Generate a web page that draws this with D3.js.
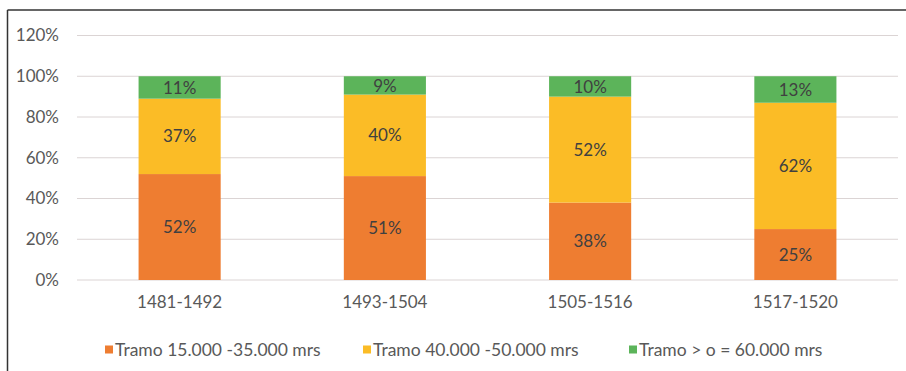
<!DOCTYPE html>
<html>
<head>
<meta charset="utf-8">
<script src="https://cdn.jsdelivr.net/npm/d3@7"></script>
<style>
  html, body { margin: 0; padding: 0; background: #fff; }
  svg { display: block; font-family: Lato, "Open Sans", sans-serif; }
</style>
</head>
<body>
<svg id="chart" width="906" height="371"></svg>
<script>
// Periods and shares (%) for each income bracket
const periods = ["1481-1492", "1493-1504", "1505-1516", "1517-1520"];
const seriesNames = ["Tramo 15.000 -35.000 mrs", "Tramo 40.000 -50.000 mrs", "Tramo > o = 60.000 mrs"];
const tramoBajo = [52, 51, 38, 25];
const tramoMedio = [37, 40, 52, 62];
const tramoAlto = [11, 9, 10, 13];
const yTicks = [0, 20, 40, 60, 80, 100, 120];
const colors = ["#EE7D31", "#FBBC26", "#5CB45A"];

const svg = d3.select("#chart");
const W = 906, H = 371;
const m = { left: 77, right: 8, top: 35.5, bottom: 91 };

// outer frame: top and left rules
svg.append("line").attr("x1", 7.5).attr("x2", W).attr("y1", 10).attr("y2", 10)
  .attr("stroke", "#333").attr("stroke-width", 1.5);
svg.append("line").attr("x1", 7.5).attr("x2", 7.5).attr("y1", 10).attr("y2", H)
  .attr("stroke", "#333").attr("stroke-width", 1.5);

const x = d3.scaleBand().domain(periods)
  .range([m.left, W - m.right]).paddingInner(0.6).paddingOuter(0.3);
const y = d3.scaleLinear().domain([0, 120]).range([H - m.bottom, m.top]);

// gridlines
svg.append("g").selectAll("line").data(yTicks).join("line")
  .attr("x1", m.left).attr("x2", W - m.right)
  .attr("y1", d => y(d)).attr("y2", d => y(d))
  .attr("stroke", "#dbd4d4").attr("stroke-width", 1);

// y axis labels
const yAxis = d3.axisLeft(y).tickValues(yTicks).tickFormat(d => d + "%").tickSize(0).tickPadding(0);
const gy = svg.append("g").attr("transform", `translate(59,0)`).call(yAxis);
gy.select(".domain").remove();
gy.selectAll("text").attr("font-size", 17).attr("fill", "#595959").attr("font-family", "Lato, sans-serif");

// x axis labels
const xAxis = d3.axisBottom(x).tickSize(0).tickPadding(16);
const gx = svg.append("g").attr("transform", `translate(0,${y(0)})`).call(xAxis);
gx.select(".domain").remove();
gx.selectAll("text").attr("font-size", 17).attr("fill", "#595959").attr("font-family", "Lato, sans-serif");

// stacked bars
const rows = periods.map((p, i) => ({ period: p, s0: tramoBajo[i], s1: tramoMedio[i], s2: tramoAlto[i] }));
const stack = d3.stack().keys(["s0", "s1", "s2"]);
const layers = stack(rows);

const g = svg.append("g");
layers.forEach((layer, li) => {
  g.selectAll(null).data(layer).join("rect")
    .attr("x", d => x(d.data.period))
    .attr("width", x.bandwidth())
    .attr("y", d => y(d[1]))
    .attr("height", d => y(d[0]) - y(d[1]))
    .attr("fill", colors[li]);
  g.selectAll(null).data(layer).join("text")
    .attr("x", d => x(d.data.period) + x.bandwidth() / 2)
    .attr("y", d => (y(d[0]) + y(d[1])) / 2)
    .attr("dy", "0.36em")
    .attr("text-anchor", "middle")
    .attr("font-size", 17)
    .attr("fill", "#404040")
    .text(d => (d[1] - d[0]) + "%");
});

// legend
const legendX = [105, 363, 629];
const lg = svg.append("g");
seriesNames.forEach((name, i) => {
  lg.append("rect").attr("x", legendX[i]).attr("y", 345.5).attr("width", 8).attr("height", 8).attr("fill", colors[i]);
  lg.append("text").attr("x", legendX[i] + 10).attr("y", 356)
    .attr("font-size", 17.5).attr("fill", "#595959").text(name);
});
</script>
</body>
</html>
